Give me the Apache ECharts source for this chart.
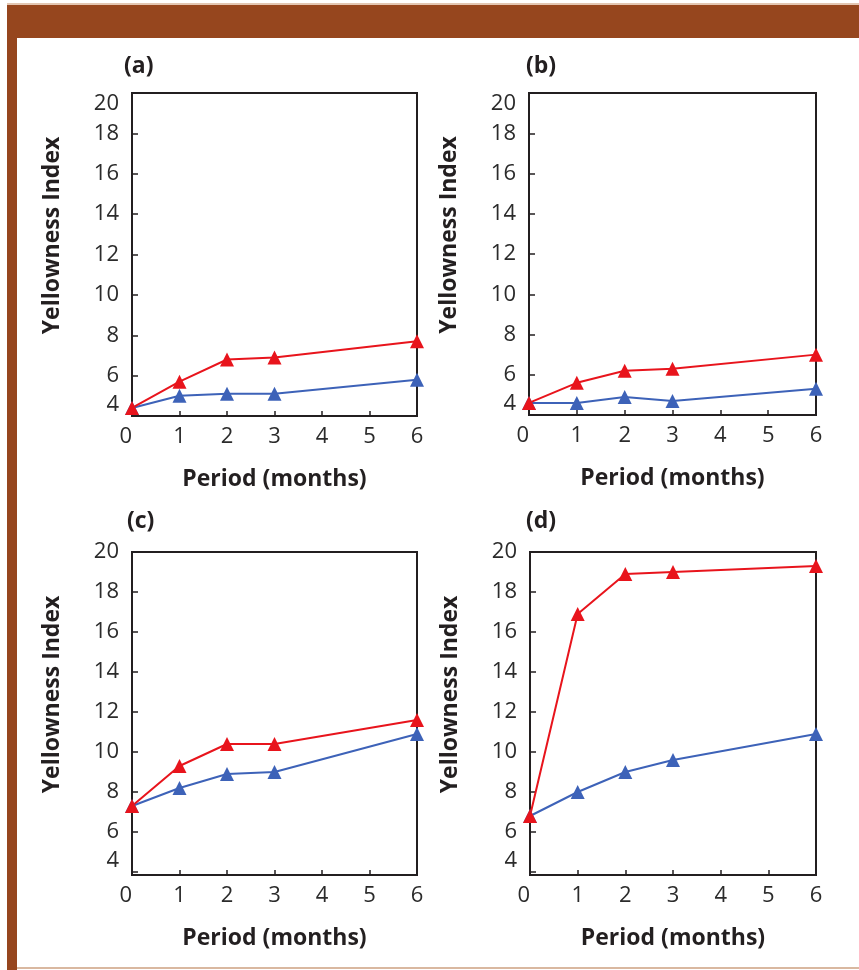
<!DOCTYPE html>
<html><head><meta charset="utf-8">
<script src="https://cdn.jsdelivr.net/npm/echarts@6/dist/echarts.min.js"></script>
<style>html,body{margin:0;padding:0;background:#fff}#c{width:859px;height:970px}</style>
</head><body><div id="c"></div>
<script>
// ---- data ----
const months = [0, 1, 2, 3, 6];
const xTicks = [0, 1, 2, 3, 4, 5, 6];
const yTicks = [4, 6, 8, 10, 12, 14, 16, 18, 20];
const panelLabels = ['(a)', '(b)', '(c)', '(d)'];
const aRed  = [4.4, 5.7, 6.8, 6.9, 7.7];
const aBlue = [4.4, 5.0, 5.1, 5.1, 5.8];
const bRed  = [4.6, 5.6, 6.2, 6.3, 7.0];
const bBlue = [4.6, 4.6, 4.9, 4.7, 5.3];
const cRed  = [7.3, 9.3, 10.4, 10.4, 11.6];
const cBlue = [7.3, 8.2, 8.9, 9.0, 10.9];
const dRed  = [6.8, 16.9, 18.9, 19.0, 19.3];
const dBlue = [6.8, 8.0, 9.0, 9.6, 10.9];
const xTitle = 'Period (months)';
const yTitle = 'Yellowness Index';

// ---- layout / style ----
const FONT = '"Open Sans", "Noto Sans", sans-serif';
const INK = '#231f20';
const RED = '#e8141c';
const BLUE = '#3d62b8';
const BROWN = '#96461e';
const redSets = [aRed, bRed, cRed, dRed];
const blueSets = [aBlue, bBlue, cBlue, dBlue];
const grids = [
  {left: 132, top: 93, width: 285, height: 323},
  {left: 529, top: 93, width: 287, height: 322},
  {left: 132, top: 552, width: 285, height: 323},
  {left: 530, top: 552, width: 286, height: 323}
];
const yMins = [4, 4, 3.85, 3.85];
const labelPos = [[124, 55], [526, 55], [127, 510], [526, 510]];

const pair = arr => arr.map((v, i) => [months[i], v]);

const option = {
  animation: false,
  backgroundColor: '#fff',
  title: panelLabels.map((t, i) => ({
    text: t, left: labelPos[i][0], top: labelPos[i][1], padding: 0,
    textStyle: {fontFamily: FONT, fontSize: 23, fontWeight: 'bold', color: INK}
  })),
  graphic: [
    {type: 'rect', shape: {x: 7, y: 3, width: 852, height: 2}, style: {fill: '#e3c6b2'}},
    {type: 'rect', shape: {x: 7, y: 5, width: 852, height: 33}, style: {fill: BROWN}},
    {type: 'rect', shape: {x: 7, y: 5, width: 10, height: 965}, style: {fill: BROWN}},
    {type: 'rect', shape: {x: 17, y: 967, width: 842, height: 2}, style: {fill: '#d9b8a0'}}
  ],
  grid: grids.map(g => Object.assign({show: true, borderColor: INK, borderWidth: 2, backgroundColor: '#fff'}, g)),
  xAxis: grids.map((g, i) => ({
    type: 'value', gridIndex: i, min: 0, max: 6, interval: 1,
    name: xTitle, nameLocation: 'middle', nameGap: 52,
    nameTextStyle: {fontFamily: FONT, fontSize: 23, fontWeight: 'bold', color: INK},
    axisLine: {show: true, lineStyle: {color: INK, width: 2}},
    axisTick: {show: true, inside: true, length: 5, lineStyle: {color: INK, width: 1.5}},
    axisLabel: {fontFamily: FONT, fontSize: 22, color: '#2b2b2b', margin: 10, alignMinLabel: 'right',
      customValues: xTicks},
    splitLine: {show: false}
  })),
  yAxis: grids.map((g, i) => {
    const ax = {
      type: 'value', gridIndex: i, min: yMins[i], max: 20,
      name: yTitle, nameLocation: 'middle', nameGap: 68,
      nameTextStyle: {fontFamily: FONT, fontSize: 23, fontWeight: 'bold', color: INK, padding: [0, 0, 0, 38]},
      axisLine: {show: true, lineStyle: {color: INK, width: 2}},
      axisTick: {show: true, inside: true, length: 6, lineStyle: {color: INK, width: 1.5}, customValues: yTicks},
      axisLabel: {fontFamily: FONT, fontSize: 22, color: '#2b2b2b', margin: 13, customValues: yTicks,
        verticalAlignMinLabel: 'bottom'},
      splitLine: {show: false}
    };
    if (i < 2) { ax.axisLabel.verticalAlignMaxLabel = 'top'; }
    return ax;
  }),
  series: []
};
for (let i = 0; i < 4; i++) {
  option.series.push({
    type: 'line', xAxisIndex: i, yAxisIndex: i, data: pair(blueSets[i]),
    symbol: 'triangle', symbolSize: 14, clip: false,
    lineStyle: {color: BLUE, width: 2}, itemStyle: {color: BLUE}
  });
  option.series.push({
    type: 'line', xAxisIndex: i, yAxisIndex: i, data: pair(redSets[i]),
    symbol: 'triangle', symbolSize: 14, clip: false,
    lineStyle: {color: RED, width: 2}, itemStyle: {color: RED}
  });
}
const chart = echarts.init(document.getElementById('c'), null, {renderer: 'canvas'});
chart.setOption(option);
</script>
</body></html>
